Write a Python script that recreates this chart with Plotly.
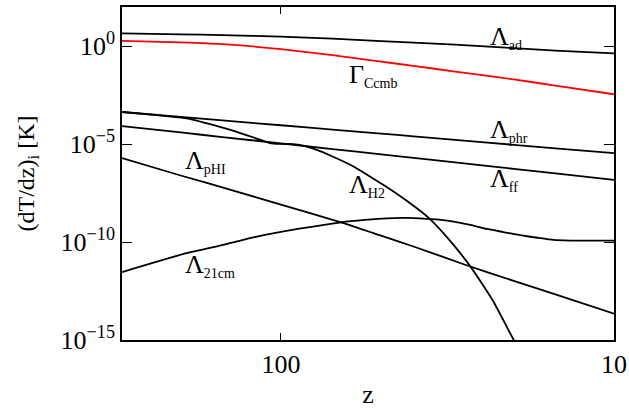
import math
import plotly.graph_objects as go

# ---- data ----
z_main = [300, 200, 150, 100, 70, 50, 40, 30, 20, 15, 10]
lam_ad = [4.50, 4.00, 3.68, 3.09, 2.44, 1.82, 1.52, 1.20, 0.796, 0.593, 0.426]
gam_ccmb = [1.88, 1.56, 1.28, 0.708, 0.348, 0.162, 0.0986, 0.0505, 0.0201, 0.00968, 0.00351]
lam_phr = [4.36e-4, 2.44e-4, 1.62e-4, 9.18e-5, 5.47e-5, 3.41e-5, 2.51e-5, 1.64e-5, 9.23e-6, 6.11e-6, 3.47e-6]
lam_ff = [8.36e-5, 3.94e-5, 2.29e-5, 1.09e-5, 5.56e-6, 3.01e-6, 2.00e-6, 1.16e-6, 5.45e-7, 3.21e-7, 1.51e-7]

z_h2 = [300, 240, 190, 160, 135, 120, 108, 100, 92, 86, 80, 70, 60, 54, 48, 42, 36, 31, 27, 25, 23, 20, 18]
lam_h2 = [4.36e-4, 3.10e-4, 2.00e-4, 9.50e-5, 4.12e-5, 2.10e-5, 1.13e-5, 1.02e-5, 1.00e-5, 8.30e-6,
          5.82e-6, 2.34e-6, 6.65e-7, 2.20e-7, 6.30e-8, 1.31e-8, 1.71e-9, 1.12e-10, 5.75e-12,
          8.3e-13, 8.9e-14, 1.0e-15, 4.0e-17]

z_phi = [300, 200, 139, 100, 66, 50, 40, 28, 20, 15, 10]
lam_phi = [1.92e-6, 2.50e-7, 4.27e-8, 8.18e-9, 1.02e-9, 2.12e-10, 5.93e-11, 6.93e-12, 1.05e-12, 2.14e-13, 2.22e-14]

z_21 = [300, 192, 150, 121, 88, 66, 56, 48, 42, 36.5, 33, 30.3, 27, 24.1, 21.5, 19.1, 17, 15.2, 13.5, 12.1, 10]
lam_21 = [2.93e-12, 2.75e-11, 7.0e-11, 1.73e-10, 4.79e-10, 1.02e-9, 1.35e-9, 1.63e-9, 1.70e-9, 1.52e-9,
          1.35e-9, 1.10e-9, 7.48e-10, 4.67e-10, 3.24e-10, 2.24e-10, 1.66e-10, 1.28e-10, 1.19e-10,
          1.17e-10, 1.17e-10]

x_major = [100, 10]
x_major_text = ["100", "10"]
x_minor = [200, 90, 80, 70, 60, 50, 40, 30, 20]
y_major = [1, 1e-5, 1e-10, 1e-15]
y_major_text = ["10<sup>0</sup>", "10<sup>\u22125</sup>", "10<sup>\u221210</sup>", "10<sup>\u221215</sup>"]
y_minor = [10, 1e-1, 1e-2, 1e-3, 1e-4, 1e-6, 1e-7, 1e-8, 1e-9, 1e-11, 1e-12, 1e-13, 1e-14]

FONT = "Liberation Serif"
XR = [math.log10(300), 1]
YR = [-15, 2]

fig = go.Figure()
series = [
    (z_main, lam_ad, "black"),
    (z_main, gam_ccmb, "red"),
    (z_main, lam_phr, "black"),
    (z_main, lam_ff, "black"),
    (z_h2, lam_h2, "black"),
    (z_phi, lam_phi, "black"),
    (z_21, lam_21, "black"),
]
for zx, vy, col in series:
    fig.add_trace(go.Scatter(x=zx, y=vy, mode="lines",
                             line=dict(color=col, width=1.8, shape="spline", smoothing=0.5),
                             showlegend=False, hoverinfo="skip"))

def lab(main, sub):
    return f"{main}<sub><span style='font-size:14px'>{sub}</span></sub>"

labels = [
    (lab("\u039b", "ad"), 0.744, 0.908),
    (lab("\u0393", "Ccmb"), 0.457, 0.795),
    (lab("\u039b", "phr"), 0.744, 0.629),
    (lab("\u039b", "ff"), 0.744, 0.483),
    (lab("\u039b", "pHI"), 0.124, 0.535),
    (lab("\u039b", "H2"), 0.457, 0.465),
    (lab("\u039b", "21cm"), 0.124, 0.225),
]
for txt, xp, yp in labels:
    fig.add_annotation(text=txt, x=xp, y=yp, xref="paper", yref="paper",
                       xanchor="left", yanchor="middle", showarrow=False,
                       font=dict(family=FONT, size=26, color="black"))

common = dict(showgrid=False, zeroline=False, showline=True, linecolor="black",
              linewidth=1.6, mirror="ticks", ticks="inside", tickcolor="black",
              automargin=False, layer="above traces")

fig.update_layout(
    template="none",
    width=629, height=409,
    margin=dict(l=122, r=15, t=7, b=69, autoexpand=False),
    paper_bgcolor="white", plot_bgcolor="white",
    font=dict(family=FONT, color="black"),
    xaxis=dict(type="log", range=XR, autorange=False,
               tickmode="array", tickvals=x_major, ticktext=x_major_text,
               ticklen=7, tickwidth=1.3,
               tickfont=dict(family=FONT, size=26),
               title=dict(text="z", font=dict(family=FONT, size=26), standoff=24),
               **common),
    xaxis2=dict(type="log", range=XR, autorange=False, overlaying="x", anchor="y", side="bottom",
                tickmode="array", tickvals=x_minor, ticklen=4, tickwidth=1.1,
                showticklabels=False, **common),
    yaxis=dict(type="log", range=YR, autorange=False,
               tickmode="array", tickvals=y_major, ticktext=y_major_text,
               ticklen=10, tickwidth=1.3,
               tickfont=dict(family=FONT, size=26),
               title=dict(text="(dT/dz)<sub>i</sub> [K]", font=dict(family=FONT, size=24), standoff=19),
               **common),
    yaxis2=dict(type="log", range=YR, autorange=False, overlaying="y", anchor="x", side="left",
                tickmode="array", tickvals=y_minor, ticklen=5, tickwidth=1.1,
                showticklabels=False, **common),
)

fig.write_html("out.html", config={"displayModeBar": False},
               post_script="document.body.style.margin='0';")
